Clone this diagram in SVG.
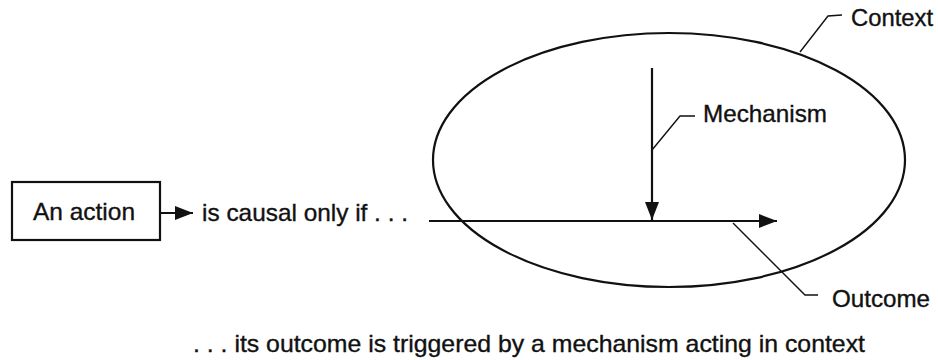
<svg xmlns="http://www.w3.org/2000/svg" width="938" height="360" viewBox="0 0 938 360">
<style>
text{font-family:"Liberation Sans",Arial,sans-serif;font-size:24px;fill:#111;stroke:#111;stroke-width:0.35}
.s{stroke:#111;stroke-width:2.2;fill:none}
.l{stroke:#111;stroke-width:1.4;fill:none}
</style>
<defs>
<marker id="ahL" markerWidth="18" markerHeight="14" refX="18" refY="7" orient="auto" markerUnits="userSpaceOnUse" viewBox="0 0 18 14">
<path d="M0,0 L18,7 L0,14 z" fill="#111"/>
</marker>
</defs>
<g id="context">
<ellipse class="s" cx="669" cy="160" rx="236" ry="127"/>
<text x="851" y="26" textLength="82" lengthAdjust="spacingAndGlyphs">Context</text>
</g>
<g id="action">
<rect class="s" x="12" y="182" width="148" height="58"/>
<text x="33" y="220" textLength="102" lengthAdjust="spacingAndGlyphs">An action</text>
</g>
<g id="causal">
<text x="202" y="221" textLength="206" lengthAdjust="spacingAndGlyphs">is causal only if . . .</text>
</g>
<g id="mechanism">
<text x="703" y="122" textLength="124" lengthAdjust="spacingAndGlyphs">Mechanism</text>
</g>
<g id="outcome">
<text x="832" y="307" textLength="98" lengthAdjust="spacingAndGlyphs">Outcome</text>
</g>
<g id="caption">
<text x="193" y="352" textLength="672" lengthAdjust="spacingAndGlyphs">. . . its outcome is triggered by a mechanism acting in context</text>
</g>
<g id="connectors">
<line class="s" x1="160" y1="213" x2="193" y2="213" marker-end="url(#ahL)"/>
<line class="s" x1="652" y1="68" x2="652" y2="220" marker-end="url(#ahL)"/>
<line class="s" x1="429" y1="221" x2="777" y2="221" marker-end="url(#ahL)"/>
<path class="l" d="M800,52 L828,16 L842,15"/>
<path class="l" d="M652,150 L680,116 L695,116"/>
<path class="l" d="M733,223 L805,295 L818,295"/>
</g>
</svg>
